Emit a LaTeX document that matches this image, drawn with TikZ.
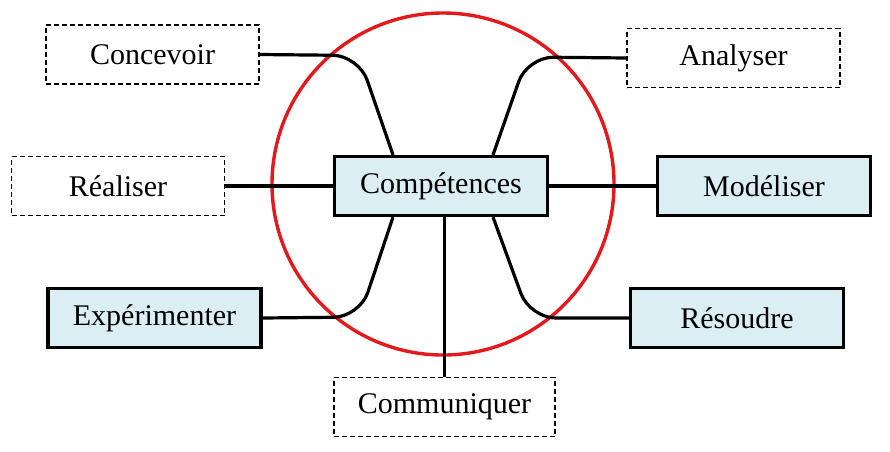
\documentclass[tikz,border=0pt]{standalone}
\usepackage{fontspec}
\setmainfont{Liberation Serif}
\definecolor{skillfill}{HTML}{DBEEF4}
\definecolor{ringred}{HTML}{E3191C}
\begin{document}
\begin{tikzpicture}[x=1pt,y=-1pt,
    every node/.style={font=\fontsize{30}{36}\selectfont,minimum width=213pt,minimum height=59pt,inner sep=0pt},
    dashbox/.style={draw,dashed,line width=1.3pt,dash pattern=on 5pt off 3pt},
    skillbox/.style={draw,fill=skillfill,line width=3.2pt},
    link/.style={line width=3.2pt,rounded corners=26pt}]
    \useasboundingbox (0,0) rectangle (890,451);
    \draw[ringred,line width=3.4pt] (443,184) circle (171);
    \node[skillbox] (comp) at (441,186) {Compétences};
    \node[dashbox] (conc) at (152.5,54.5) {Concevoir};
    \node[dashbox] (anal) at (733.5,58) {Analyser};
    \node[dashbox] (real) at (118,186) {Réaliser};
    \node[skillbox] (model) at (764,186) {Modéliser};
    \node[skillbox] (exper) at (154.5,318) {Expérimenter};
    \node[skillbox] (resou) at (737,318) {Résoudre};
    \node[dashbox,minimum width=221pt] (commu) at (444.5,407) {Communiquer};
    \draw[link] (conc.east) -- ++(99,1) -- ([xshift=-48pt]comp.north);
    \draw[link] (anal.west) -- ++(-99,-1) -- ([xshift=52pt]comp.north);
    \draw[link] (exper.east) -- ++(97,-1) -- ([xshift=-48pt]comp.south);
    \draw[link] (resou.west) -- ++(-99,0) -- ([xshift=52pt]comp.south);
    \draw[link] (real) -- (comp);
    \draw[link] (comp) -- (model);
    \draw[link,line width=2.4pt] (commu.north) -- (commu.north |- comp.south);
  \end{tikzpicture}
\end{document}
